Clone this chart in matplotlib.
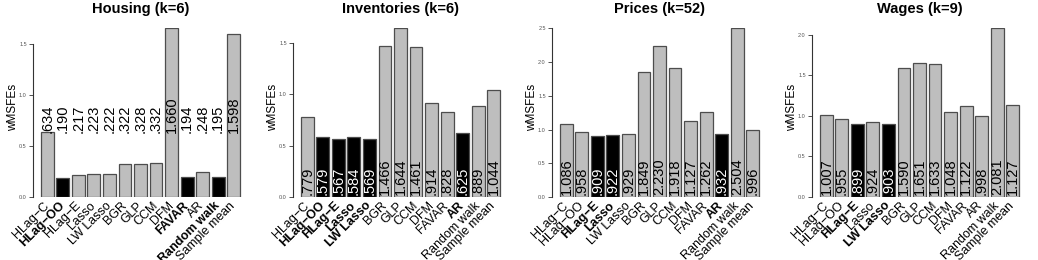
import numpy as np
import matplotlib
matplotlib.use('Agg')
import matplotlib.pyplot as plt

plt.rcParams['font.family'] = ['Liberation Sans', 'DejaVu Sans']

methods = ['HLag−C', 'HLag−OO', 'HLag−E', 'Lasso', 'LW Lasso', 'BGR', 'GLP',
           'CCM', 'DFM', 'FAVAR', 'AR', 'Random walk', 'Sample mean']

titles = ['Housing (k=6)', 'Inventories (k=6)', 'Prices (k=52)', 'Wages (k=9)']

housing = [.634, .190, .217, .223, .222, .322, .328, .332, 1.660, .194, .248, .195, 1.598]
inventories = [.779, .579, .567, .584, .569, 1.466, 1.644, 1.461, .914, .828, .625, .889, 1.044]
prices = [1.086, .958, .909, .922, .929, 1.849, 2.230, 1.918, 1.127, 1.262, .932, 2.504, .996]
wages = [1.007, .955, .899, .924, .903, 1.590, 1.651, 1.633, 1.048, 1.122, .998, 2.081, 1.127]

# methods that are highlighted (black bar, bold label) in each panel
best_housing = ['HLag−OO', 'FAVAR', 'Random walk']
best_inventories = ['HLag−OO', 'HLag−E', 'Lasso', 'LW Lasso', 'AR']
best_prices = ['HLag−E', 'Lasso', 'AR']
best_wages = ['HLag−E', 'LW Lasso']

yticks_housing = [0.0, 0.5, 1.0, 1.5]
yticks_inventories = [0.0, 0.5, 1.0, 1.5]
yticks_prices = [0.0, 0.5, 1.0, 1.5, 2.0, 2.5]
yticks_wages = [0.0, 0.5, 1.0, 1.5, 2.0]

panels = [
    (titles[0], housing, best_housing, yticks_housing, 0.38),
    (titles[1], inventories, best_inventories, yticks_inventories, 0.012),
    (titles[2], prices, best_prices, yticks_prices, 0.012),
    (titles[3], wages, best_wages, yticks_wages, 0.012),
]

W, H = 1038, 260
fig = plt.figure(figsize=(W / 100, H / 100), dpi=100)

axis_x = [33, 293, 552, 812]
x = 0.7 + 1.2 * np.arange(len(methods))

for k, (title, vals, best, yt, lab_frac) in enumerate(panels):
    left = axis_x[k] / W
    ax = fig.add_axes([left, (H - 197) / H, 215 / W, 169 / H])
    ymax = max(vals)
    colors = ['black' if m in best else '#bebebe' for m in methods]
    ax.bar(x, vals, width=1.0, color=colors, edgecolor='#4d4d4d', linewidth=0.9)
    ax.set_xlim(-0.416, 16.216)
    ax.set_ylim(0, ymax)

    ybase = lab_frac * ymax
    for xi, v, m in zip(x, vals, methods):
        s = ('%.3f' % v).lstrip('0')
        # white text only where it sits inside a black bar
        c = 'white' if (m in best and v > ybase) else 'black'
        ax.text(xi, ybase, s, rotation=90, ha='center', va='bottom',
                fontsize=10.5, color=c)

    for s in ['top', 'right', 'bottom']:
        ax.spines[s].set_visible(False)
    ax.spines['left'].set_bounds(yt[0], yt[-1])
    ax.spines['left'].set_color('#333333')
    ax.spines['left'].set_linewidth(0.8)
    ax.set_yticks(yt)
    ax.set_yticklabels(['%.1f' % t for t in yt])
    ax.tick_params(axis='y', labelsize=4, length=3, width=0.6, colors='#333333',
                   labelcolor='#555555', pad=1.5)

    ax.set_xticks(x)
    ax.set_xticklabels(methods, rotation=45, ha='right', va='center',
                       rotation_mode='anchor', fontsize=9)
    ax.tick_params(axis='x', length=0, pad=5)
    for lab in ax.get_xticklabels():
        if lab.get_text() in best:
            lab.set_fontweight('bold')

    ax.set_ylabel('wMSFEs', fontsize=8.5)
    ax.yaxis.set_label_coords(-0.093, 0.53)
    ax.yaxis.label.set_va('center')

    fig.text(left + 107.5 / W, 1 - 8.5 / H, title, ha='center', va='center',
             fontsize=10.5, fontweight='bold')

fig.savefig('out.png', dpi=100)
